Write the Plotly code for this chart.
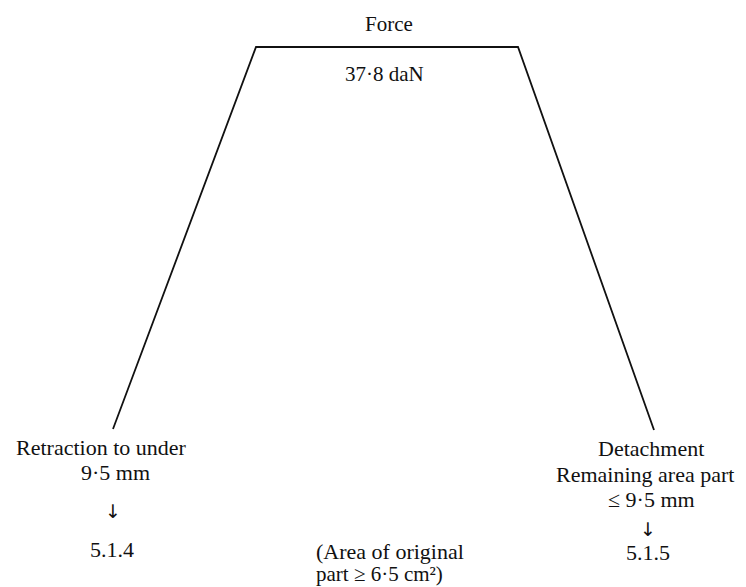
import plotly.graph_objects as go

# Trapezoid outline (diagram coordinates in page pixels, y downward)
outline_x = [113, 256, 518, 654]
outline_y = [429, 47, 47, 430]

title_text = "Force"
force_value = "37·8 daN"
left_lines = ["Retraction to under", "9·5 mm", "↓", "5.1.4"]
right_lines = ["Detachment", "Remaining area part", "≤ 9·5 mm", "↓", "5.1.5"]
middle_lines = ["(Area of original", "part ≥ 6·5 cm²)"]

FONT = dict(family="Liberation Serif, Times New Roman, serif", size=22, color="#111")
ARROW_FONT = "DejaVu Sans, sans-serif"

fig = go.Figure()
fig.add_trace(go.Scatter(x=outline_x, y=outline_y, mode="lines",
                         line=dict(color="#111", width=1.8), hoverinfo="skip",
                         showlegend=False))

def label(x, y, t, size=22, family=None):
    f = dict(FONT, size=size)
    if family:
        f["family"] = family
    fig.add_annotation(x=x, y=y, text=t, showarrow=False, xref="x", yref="y",
                       xanchor="center", yanchor="middle", font=f)

label(389, 24, title_text, 21)
label(384, 74, force_value, 21)

label(101, 447, left_lines[0])
label(115, 472, left_lines[1])
label(113, 511, left_lines[2], 19, ARROW_FONT)
label(112, 549, left_lines[3])

label(651, 448, right_lines[0])
label(645, 474, right_lines[1])
label(651, 499, right_lines[2])
label(648, 529, right_lines[3], 19, ARROW_FONT)
label(648, 552, right_lines[4])

label(390, 551, middle_lines[0])
label(379, 574, middle_lines[1], 21)

fig.update_layout(
    width=738, height=579,
    margin=dict(l=0, r=0, t=0, b=0),
    paper_bgcolor="white", plot_bgcolor="white",
    xaxis=dict(range=[8, 746], visible=False, fixedrange=True),
    yaxis=dict(range=[587, 8], visible=False, fixedrange=True),
)
fig.write_html("out.html")
